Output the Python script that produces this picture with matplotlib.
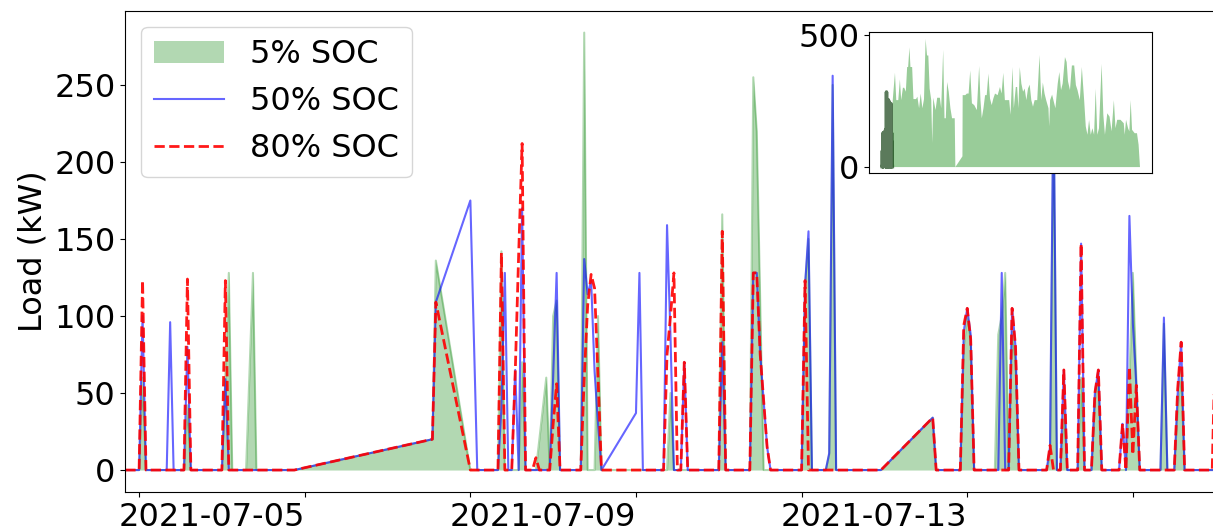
import numpy as np
import pandas as pd
import matplotlib
matplotlib.use("Agg")
import matplotlib.pyplot as plt

# two-week window, hours counted from 2021-07-03 00:00
start = pd.Timestamp("2021-07-03 00:00")
hours = [-4, 0, 1, 2, 8, 9, 10, 13, 14, 15,
         24, 25, 26, 27, 31, 33, 34, 45, 85, 86,
         96, 98, 104, 105, 106, 107, 108, 109, 110, 111,
         112, 114, 115, 116, 118, 119, 120, 121, 122, 128,
         129, 130, 131, 132, 133, 134, 144, 145, 146, 152,
         153, 154, 155, 156, 157, 158, 159, 168, 169, 170,
         177, 178, 179, 180, 181, 182, 183, 192, 193, 194,
         195, 199, 200, 201, 202, 215, 230, 231, 238, 239,
         240, 241, 242, 248, 249, 250, 251, 252, 253, 254,
         255, 263, 264, 265, 266, 267, 268, 269, 272, 273,
         274, 276, 277, 278, 279, 284, 285, 286, 287, 288,
         289, 290, 296, 297, 298, 300, 301, 302, 303, 311,
         312]

soc5 = [0, 0, 60, 0, 0, 0, 0, 0, 42, 0,
        0, 60, 128, 0, 0, 128, 0, 0, 20, 136,
        0, 0, 0, 142, 0, 0, 0, 0, 0, 70,
        0, 0, 0, 20, 60, 0, 100, 110, 0, 0,
        284, 0, 0, 0, 100, 0, 0, 0, 0, 0,
        0, 50, 0, 0, 0, 0, 0, 0, 166, 0,
        0, 255, 220, 110, 0, 0, 0, 0, 120, 150,
        0, 0, 10, 250, 0, 0, 34, 0, 0, 80,
        100, 85, 0, 0, 88, 100, 128, 0, 90, 70,
        0, 0, 10, 240, 0, 0, 40, 0, 0, 60,
        0, 0, 45, 60, 0, 0, 0, 0, 60, 128,
        60, 0, 0, 95, 0, 0, 40, 65, 0, 0,
        0]

soc50 = [0, 0, 100, 0, 0, 96, 0, 0, 80, 0,
         0, 59, 0, 0, 0, 0, 0, 0, 20, 109,
         175, 0, 0, 40, 128, 0, 0, 65, 0, 170,
         0, 0, 0, 0, 0, 0, 60, 128, 0, 0,
         137, 114, 123, 64, 30, 0, 37, 128, 0, 0,
         159, 87, 0, 0, 0, 70, 0, 0, 83, 0,
         0, 128, 128, 75, 45, 15, 0, 0, 120, 155,
         0, 0, 11, 256, 0, 0, 34, 0, 0, 90,
         105, 88, 0, 0, 0, 128, 0, 0, 105, 80,
         0, 0, 15, 250, 0, 0, 65, 0, 0, 147,
         0, 0, 50, 65, 0, 0, 30, 0, 165, 95,
         55, 0, 0, 99, 0, 0, 50, 83, 0, 0,
         0]

soc80 = [0, 0, 123, 0, 0, 0, 0, 0, 124, 0,
         0, 123, 0, 0, 0, 0, 0, 0, 20, 109,
         0, 0, 0, 141, 0, 0, 0, 63, 140, 212,
         0, 0, 8, 0, 0, 0, 30, 56, 0, 0,
         60, 107, 127, 118, 60, 0, 0, 0, 0, 0,
         75, 100, 128, 0, 0, 70, 0, 0, 155, 0,
         0, 128, 128, 75, 45, 15, 0, 0, 123, 0,
         0, 0, 0, 0, 0, 0, 34, 0, 0, 94,
         105, 85, 0, 0, 0, 0, 0, 0, 105, 80,
         0, 0, 16, 0, 0, 0, 65, 0, 0, 147,
         0, 0, 50, 65, 0, 0, 30, 0, 67, 10,
         55, 0, 0, 0, 0, 0, 53, 83, 0, 0,
         95]

tick_days = ["2021-07-03", "2021-07-05", "2021-07-07", "2021-07-09",
             "2021-07-11", "2021-07-13", "2021-07-15"]
tick_labels = ["", "2021-07-05", "", "2021-07-09", "", "2021-07-13", ""]

# whole-year 5% SOC series for the inset, days from 2021-07-02 20:00
year_start = pd.Timestamp("2021-07-02 20:00")
year_days = [13, 15.9, 17.6, 20.2, 22.3, 24.0, 26.2, 27.9, 30.0, 31.7,
             33.0, 34.7, 36.0, 38.2, 39.9, 43.3, 45.0, 47.2, 49.3, 51.5,
             53.6, 55.7, 57.5, 59.2, 60.9, 63.0, 64.3, 65.6, 68.6, 70.7,
             74.2, 75.9, 78.5, 80.2, 81.9, 83.6, 85.7, 87.9, 90.0, 93.5,
             94.3, 103.5, 103.8, 107.2, 109.3, 111.5, 113.6, 115.8, 118.8, 122.2,
             125.2, 126.9, 128.6, 130.8, 132.9, 135.0, 137.2, 139.3, 141.5, 143.6,
             145.8, 149.2, 152.2, 154.3, 156.5, 158.6, 160.8, 164.2, 165.9, 168.5,
             170.2, 172.8, 174.5, 176.2, 177.9, 180.0, 182.2, 184.3, 186.5, 188.6,
             190.8, 192.9, 195.1, 197.2, 200.6, 203.6, 205.8, 207.9, 210.1, 212.2,
             215.2, 216.1, 217.3, 219.9, 221.6, 224.2, 227.2, 229.3, 231.5, 233.6,
             236.6, 238.8, 240.5, 243.1, 245.6, 248.6, 250.8, 252.9, 255.9, 258.5,
             261.5, 263.6, 265.8, 267.9, 270.1, 272.2, 274.4, 276.5, 278.6, 280.8,
             284.2, 286.4, 288.5, 291.5, 294.5, 297.1, 300.1, 302.2, 304.4, 308.7,
             312.9, 314.2, 315.9, 318.5, 320.2, 321.9, 323.7, 327.1, 330.1, 332.2,
             334.0]
year_load = [255, 359, 255, 255, 334, 255, 302, 302, 287, 381,
             381, 456, 381, 381, 259, 259, 268, 224, 280, 224,
             259, 488, 425, 425, 299, 255, 92, 264, 217, 264,
             264, 224, 447, 186, 186, 324, 287, 224, 186, 186,
             0, 41, 274, 274, 280, 280, 368, 243, 236, 217,
             385, 255, 186, 224, 274, 274, 356, 261, 236, 261,
             280, 274, 305, 280, 359, 255, 255, 255, 199, 381,
             224, 305, 305, 224, 381, 318, 287, 299, 255, 299,
             314, 255, 230, 255, 255, 427, 255, 322, 280, 255,
             224, 155, 255, 276, 255, 224, 318, 362, 293, 318,
             419, 400, 327, 293, 387, 387, 312, 293, 255, 381,
             255, 155, 123, 180, 123, 148, 123, 299, 123, 148,
             393, 199, 123, 205, 192, 136, 255, 148, 180, 180,
             167, 123, 180, 148, 136, 255, 142, 129, 129, 85,
             0]

t = start + pd.to_timedelta(hours, unit="h")
t_year = year_start + pd.to_timedelta(year_days, unit="D")

plt.rcParams["font.size"] = 23

fig = plt.figure(figsize=(12.13, 5.31), dpi=100)
ax = fig.add_axes([0.1033, 0.0736, 0.8989, 0.9062])

ax.fill_between(t, soc5, color="green", alpha=0.3, linewidth=0, label="5% SOC")
ax.plot(t, soc5, color="green", alpha=0.3, linewidth=1.5)
ax.plot(t, soc50, color="blue", alpha=0.6, linewidth=1.5, label="50% SOC")
ax.plot(t, soc80, "--", color="red", alpha=0.9, linewidth=2, label="80% SOC")

ax.set_xlim(t[0], t[-1])
ax.set_ylabel("Load (kW)")
ax.set_xticks(pd.to_datetime(tick_days))
ax.set_xticklabels(tick_labels, ha="right")
ax.legend(loc="upper left", handlelength=2.2)

# inset: the full series, with the plotted window darkened
ax_in = fig.add_axes([0.7167, 0.6742, 0.2333, 0.2655])
ax_in.fill_between(t_year, year_load, color="green", alpha=0.4, linewidth=0)
ax_in.plot(t, soc5, color="green", alpha=0.4, linewidth=2.5)
ax_in.plot(t, soc5, color="black", alpha=0.4, linewidth=2.5)
ax_in.set_xticks([])
ax_in.set_yticks([0, 500])

fig.savefig("out.png", dpi=100)
